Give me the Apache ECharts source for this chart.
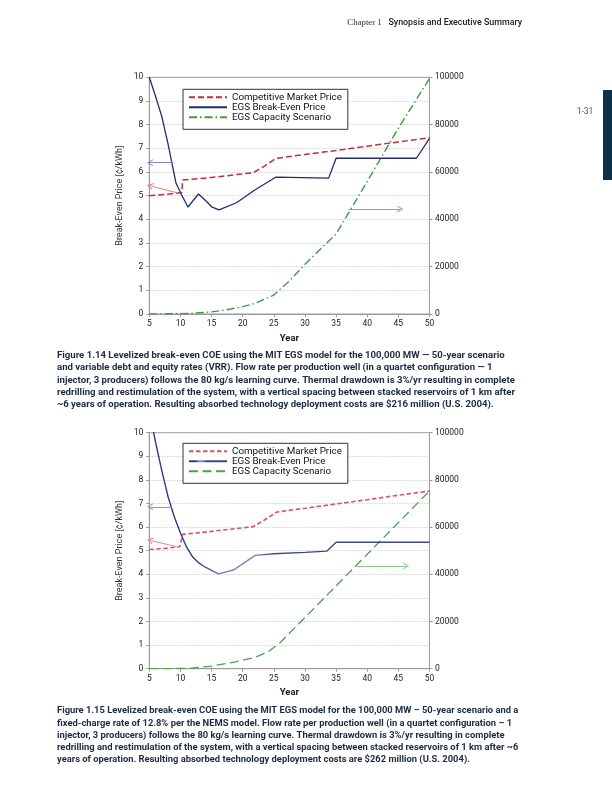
<!DOCTYPE html>
<html><head><meta charset="utf-8">
<script src="https://cdn.jsdelivr.net/npm/echarts/dist/echarts.min.js"></script>
<style>
html,body{margin:0;padding:0;background:#fff;width:612px;height:792px;overflow:hidden}
#c1{position:absolute;left:0;top:0;width:612px;height:420px}
#c2{position:absolute;left:0;top:420px;width:612px;height:372px}
</style>
</head><body><div id="c1"></div><div id="c2"></div>
<script>
// ---------- Figure 1.14 data ----------
const marketYears1 = [5, 7.5, 10.2, 10.36, 15, 21.7, 23.5, 25.3, 30, 35, 40, 45, 50];
const marketPrice1 = [5.0, 5.05, 5.13, 5.66, 5.77, 5.97, 6.25, 6.57, 6.74, 6.91, 7.09, 7.27, 7.45];
const breakYears1 = [5, 6, 7, 8, 9, 9.3, 10.2, 11.2, 12.9, 14.2, 15, 16.2, 19, 22, 25.3, 33.8, 35, 47.9, 50];
const breakPrice1 = [10, 9.2, 8.35, 7.2, 5.9, 5.52, 5.03, 4.52, 5.07, 4.75, 4.53, 4.4, 4.7, 5.25, 5.78, 5.74, 6.58, 6.58, 7.42];
const capYears1 = [5, 10, 12, 15, 17.5, 20, 22, 25, 27.5, 30, 32.5, 35, 40, 45, 50];
const capMW1 = [0, 150, 300, 900, 1800, 3100, 4500, 8000, 14000, 21000, 27500, 33800, 56000, 78500, 99500];

// ---------- Figure 1.15 data ----------
const marketYears2 = [5, 7.5, 9.9, 10.36, 15, 21.7, 23.5, 25.5, 30, 35, 40, 45, 50];
const marketPrice2 = [5.05, 5.1, 5.17, 5.69, 5.82, 6.02, 6.3, 6.64, 6.8, 6.98, 7.16, 7.35, 7.53];
const breakYears2 = [5, 6, 7, 8, 9, 10, 11, 12, 13, 14, 15, 16.1, 18.5, 22, 25, 30, 33.5, 35, 50];
const breakPrice2 = [10.9, 9.6, 8.4, 7.3, 6.45, 5.75, 5.15, 4.72, 4.47, 4.3, 4.17, 4.02, 4.18, 4.8, 4.87, 4.93, 4.98, 5.36, 5.36];
const capYears2 = [5, 10, 12, 15, 19, 22, 24, 26, 30, 35, 40, 45, 50];
const capMW2 = [0, 100, 300, 1100, 3000, 4800, 7000, 11000, 21700, 35100, 48500, 61900, 75300];

// annotation arrows [fromYear, fromValue, toYear, toValue]
const arrowsBlue1 = [8.85, 6.39, 5.1, 6.39];
const arrowsRed1 = [9.5, 5.12, 5.1, 5.42];
const arrowsGreen1 = [37.0, 44400, 45.3, 44400];
const arrowsBlue2 = [8.6, 6.86, 5.1, 6.86];
const arrowsRed2 = [9.4, 5.17, 5.1, 5.44];
const arrowsGreen2 = [38.3, 43500, 46.25, 43500];

const seriesNames = ['Competitive Market Price', 'EGS Break-Even Price', 'EGS Capacity Scenario'];

const caption1 = [
  'Figure 1.14 Levelized break-even COE using the MIT EGS model for the 100,000 MW \u2014 50-year scenario',
  'and variable debt and equity rates (VRR). Flow rate per production well (in a quartet configuration \u2014 1',
  'injector, 3 producers) follows the 80 kg/s learning curve. Thermal drawdown is 3%/yr resulting in complete',
  'redrilling and restimulation of the system, with a vertical spacing between stacked reservoirs of 1 km after',
  '~6 years of operation. Resulting absorbed technology deployment costs are $216 million (U.S. 2004).'
];
const caption2 = [
  'Figure 1.15 Levelized break-even COE using the MIT EGS model for the 100,000 MW \u2013 50-year scenario and a',
  'fixed-charge rate of 12.8% per the NEMS model. Flow rate per production well (in a quartet configuration \u2013 1',
  'injector, 3 producers) follows the 80 kg/s learning curve. Thermal drawdown is 3%/yr resulting in complete',
  'redrilling and restimulation of the system, with a vertical spacing between stacked reservoirs of 1 km after ~6',
  'years of operation. Resulting absorbed technology deployment costs are $262 million (U.S. 2004).'
];

const zip = (xs, ys) => xs.map((x, i) => [x, ys[i]]);
const FONT = 'Roboto';
const chevron = 'path://M5,0L10,10L8.4,10L5,3.2L1.6,10L0,10Z';

function arrowLine(a, color) {
  return {
    silent: true, animation: false,
    symbol: ['none', chevron], symbolSize: [7, 6],
    label: { show: false },
    lineStyle: { color: color, width: 1, type: 'solid' },
    emphasis: { disabled: true },
    data: [[{ coord: [a[0], a[1]] }, { coord: [a[2], a[3]] }]]
  };
}

function makeOption(cfg) {
  const graphics = [];
  cfg.caption.forEach((t, i) => {
    graphics.push({ type: 'text', x: 57, y: cfg.capTop + i * 12.2,
      style: { text: t, font: 'bold ' + cfg.capSize + 'px ' + FONT, fill: '#1c2a44', verticalAlign: 'middle' } });
  });
  (cfg.extra || []).forEach(g => graphics.push(g));
  return {
    animation: false,
    backgroundColor: '#fff',
    textStyle: { fontFamily: FONT },
    grid: { left: 149.3, right: 612 - 429.5, top: cfg.gridTop, height: cfg.gridH,
      show: true, borderColor: '#9a9a9a', borderWidth: 1, backgroundColor: 'transparent' },
    legend: {
      orient: 'vertical', left: 183, top: cfg.legTop, itemWidth: 38, itemHeight: 10, itemGap: 0,
      padding: [3, 6, 7, 5], borderColor: '#333', borderWidth: 1, backgroundColor: '#fff',
      selectedMode: false,
      itemStyle: { opacity: 0 },
      textStyle: { fontSize: 9.8, color: '#111', fontFamily: FONT, lineHeight: 10 },
      data: seriesNames
    },
    xAxis: {
      type: 'value', min: 5, max: 50, interval: 5,
      name: 'Year', nameLocation: 'middle', nameGap: 18,
      nameTextStyle: { fontSize: 9.5, fontWeight: 'bold', color: '#222' },
      axisLine: { lineStyle: { color: '#9a9a9a' } },
      axisTick: { show: true, length: 3, lineStyle: { color: '#9a9a9a' } },
      axisLabel: { fontSize: 8.5, color: '#222', margin: 5.5 },
      splitLine: { show: false }
    },
    yAxis: [{
      type: 'value', min: 0, max: 10, interval: 1,
      name: 'Break-Even Price [\u00a2/kWh]', nameLocation: 'middle', nameGap: 25, nameRotate: 90,
      nameTextStyle: { fontSize: 9, color: '#333' },
      axisLine: { show: true, lineStyle: { color: '#9a9a9a' } },
      axisTick: { show: true, length: 3, lineStyle: { color: '#9a9a9a' } },
      axisLabel: { fontSize: 8.5, color: '#222', margin: 6 },
      splitLine: { show: true, lineStyle: { color: '#b8b8b8', type: [1, 1.5], width: 0.8 } }
    }, {
      type: 'value', min: 0, max: 100000, interval: 20000, position: 'right',
      axisLine: { show: true, lineStyle: { color: '#9a9a9a' } },
      axisTick: { show: true, length: 3, lineStyle: { color: '#9a9a9a' } },
      axisLabel: { fontSize: 8.5, color: '#222', margin: 5.5, formatter: v => String(v) },
      splitLine: { show: false }
    }],
    series: [{
      name: seriesNames[0], type: 'line', symbol: 'none', z: 3,
      data: zip(cfg.mY, cfg.mV),
      lineStyle: cfg.mStyle, itemStyle: { color: cfg.mStyle.color },
      markLine: arrowLine(cfg.aRed, cfg.redArrow)
    }, {
      name: seriesNames[1], type: 'line', symbol: 'none', z: 4,
      data: zip(cfg.bY, cfg.bV),
      lineStyle: cfg.bStyle, itemStyle: { color: cfg.bLegend },
      markLine: arrowLine(cfg.aBlue, cfg.blueArrow)
    }, {
      name: seriesNames[2], type: 'line', symbol: 'none', yAxisIndex: 1, z: 2,
      data: zip(cfg.cY, cfg.cV),
      lineStyle: cfg.cStyle, itemStyle: { color: cfg.cStyle.color },
      markLine: arrowLine(cfg.aGreen, cfg.greenArrow)
    }],
    graphic: graphics
  };
}

const c1 = echarts.init(document.getElementById('c1'), null, { renderer: 'canvas' });
c1.setOption(makeOption({
  gridTop: 77.3, gridH: 236.7, legTop: 89.3, capTop: 355.7, capSize: 9.6, caption: caption1,
  mY: marketYears1, mV: marketPrice1, mStyle: { color: '#c62d3a', width: 1.5, type: [6, 3] },
  bY: breakYears1, bV: breakPrice1, bStyle: { color: '#1f2d6c', width: 1.3, type: 'solid' }, bLegend: '#1f2d6c',
  cY: capYears1, cV: capMW1, cStyle: { color: '#3a9f3f', width: 1.4, type: [8, 3, 1.5, 3] },
  aRed: arrowsRed1, aBlue: arrowsBlue1, aGreen: arrowsGreen1,
  redArrow: '#e0808a', blueArrow: '#7d86c2', greenArrow: '#6dbf6d',
  extra: [
    { type: 'text', x: 522, y: 23, style: { text: '{a|Chapter 1}  {b|Synopsis and Executive Summary}', align: 'right', verticalAlign: 'middle',
      rich: { a: { font: '8.8px "Liberation Serif"', fill: '#333' }, b: { font: '500 8.9px ' + FONT, fill: '#222' } } } },
    { type: 'text', x: 585, y: 112, style: { text: '1-31', font: '8.5px ' + FONT, fill: '#555', align: 'center', verticalAlign: 'middle' } },
    { type: 'rect', shape: { x: 603, y: 90, width: 9, height: 90 }, style: { fill: '#0f3049' } }
  ]
}));

const c2 = echarts.init(document.getElementById('c2'), null, { renderer: 'canvas' });
c2.setOption(makeOption({
  gridTop: 12.7, gridH: 236, legTop: 23.3, capTop: 291, capSize: 9.4, caption: caption2,
  mY: marketYears2, mV: marketPrice2, mStyle: { color: '#d65468', width: 1.6, type: [4.5, 2.5] },
  bY: breakYears2, bV: breakPrice2,
  bStyle: { width: 1.4, type: 'solid', color: new echarts.graphic.LinearGradient(0, 0, 1, 0, [
    { offset: 0, color: '#2e3a80' }, { offset: 0.18, color: '#2e3a80' }, { offset: 0.28, color: '#8088bb' },
    { offset: 0.38, color: '#7a83b8' }, { offset: 0.46, color: '#3a4686' }, { offset: 1, color: '#3a4686' }]) },
  bLegend: '#4a558f',
  cY: capYears2, cV: capMW2, cStyle: { color: '#47a447', width: 1.3, type: [9, 4.5] },
  aRed: arrowsRed2, aBlue: arrowsBlue2, aGreen: arrowsGreen2,
  redArrow: '#e58a94', blueArrow: '#8c94c8', greenArrow: '#85cc85'
}));
</script>
</body></html>
